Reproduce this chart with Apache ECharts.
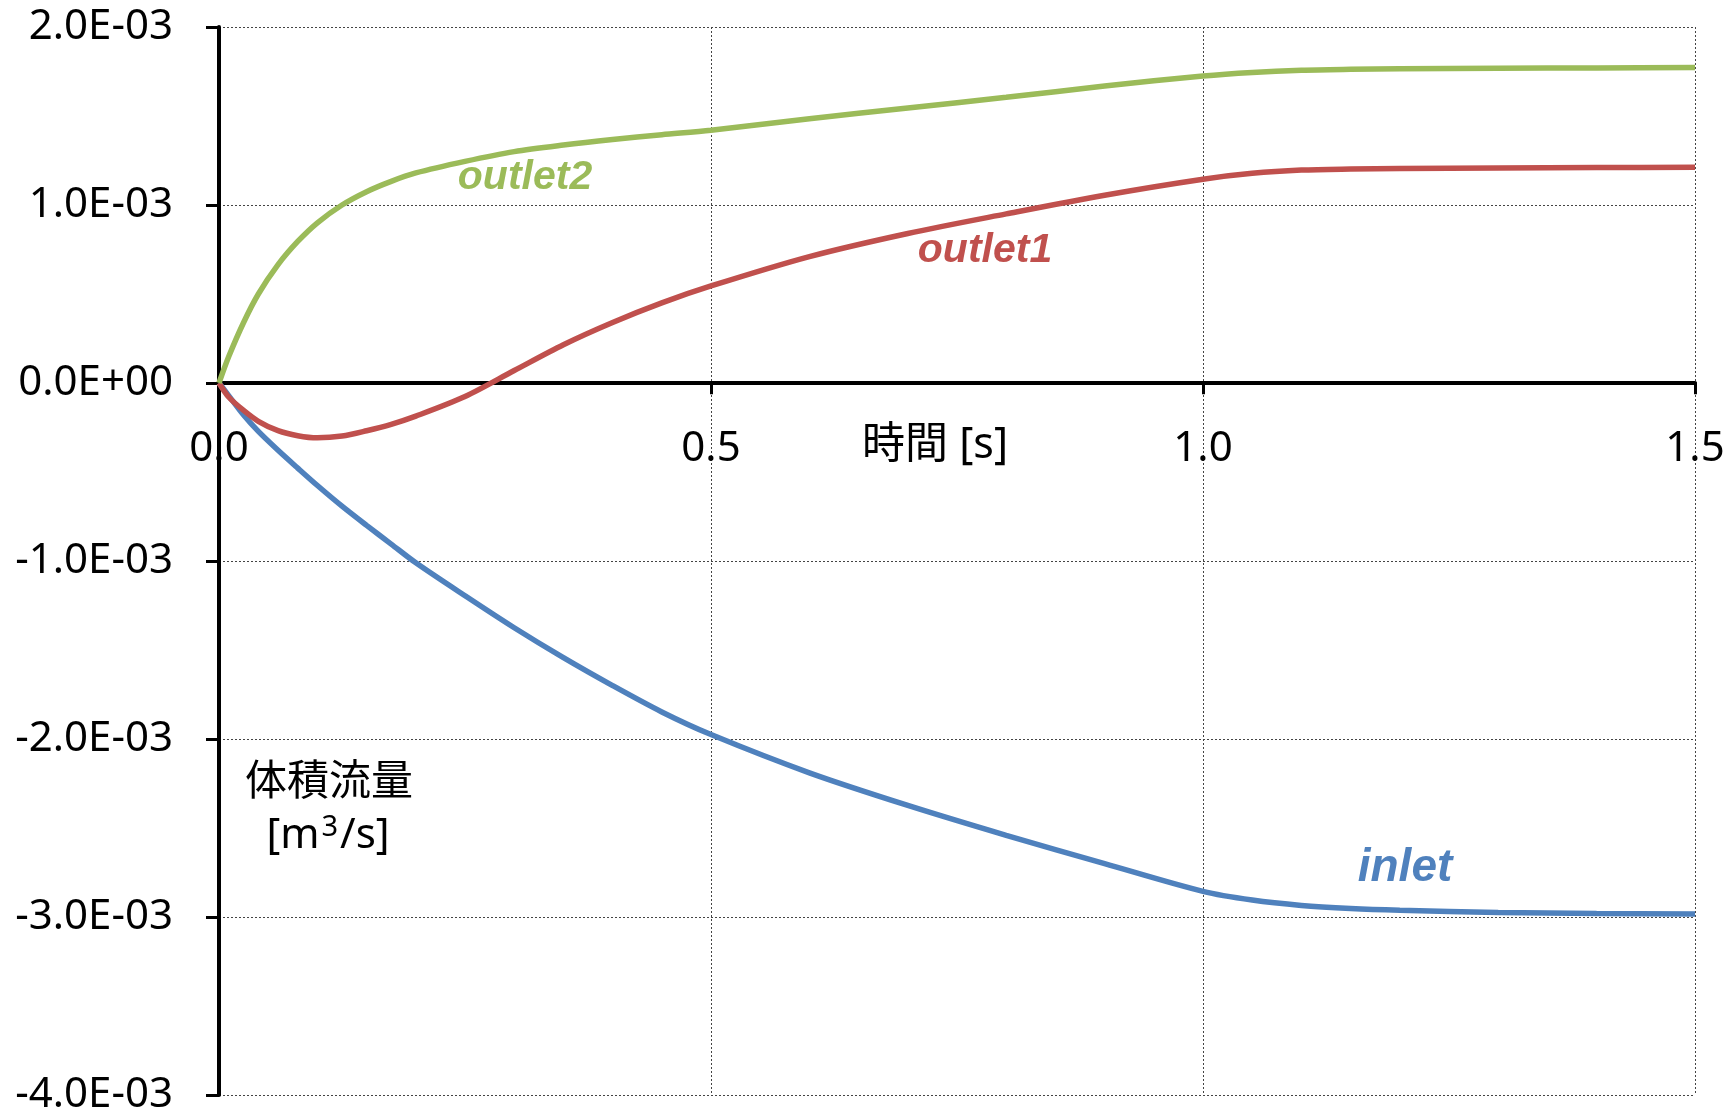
<!DOCTYPE html>
<html>
<head>
<meta charset="utf-8">
<script src="https://cdn.jsdelivr.net/npm/echarts@6/dist/echarts.min.js"></script>
<style>
  html, body { margin: 0; padding: 0; background: #fff; }
  #chart { width: 1736px; height: 1116px; }
</style>
</head>
<body>
<div id="chart"></div>
<script>
// Time samples [s]
const timeS = [0, 0.01, 0.025, 0.04, 0.06, 0.08, 0.1, 0.125, 0.15, 0.175, 0.2, 0.25, 0.3, 0.35, 0.4, 0.45, 0.5,
               0.6, 0.7, 0.8, 0.9, 1.0, 1.05, 1.1, 1.15, 1.2, 1.3, 1.4, 1.5];

// Volume flow rate [m3/s] per boundary
const inletFlow = [0, -0.072e-3, -0.18e-3, -0.272e-3, -0.378e-3, -0.478e-3, -0.576e-3, -0.692e-3, -0.800e-3,
                   -0.905e-3, -1.01e-3, -1.195e-3, -1.375e-3, -1.543e-3, -1.70e-3, -1.848e-3, -1.975e-3,
                   -2.19e-3, -2.373e-3, -2.541e-3, -2.70e-3, -2.856e-3, -2.905e-3, -2.935e-3, -2.952e-3,
                   -2.962e-3, -2.975e-3, -2.98e-3, -2.983e-3];
const outlet1Flow = [0, -0.08e-3, -0.154e-3, -0.215e-3, -0.268e-3, -0.296e-3, -0.308e-3, -0.298e-3, -0.268e-3,
                     -0.232e-3, -0.186e-3, -0.076e-3, 0.07e-3, 0.215e-3, 0.34e-3, 0.45e-3, 0.545e-3,
                     0.71e-3, 0.84e-3, 0.95e-3, 1.055e-3, 1.145e-3, 1.178e-3, 1.196e-3, 1.202e-3,
                     1.205e-3, 1.208e-3, 1.21e-3, 1.212e-3];
const outlet2Flow = [0, 0.15e-3, 0.34e-3, 0.50e-3, 0.665e-3, 0.795e-3, 0.90e-3, 1.00e-3, 1.075e-3,
                     1.133e-3, 1.18e-3, 1.245e-3, 1.30e-3, 1.337e-3, 1.368e-3, 1.395e-3, 1.42e-3,
                     1.485e-3, 1.545e-3, 1.605e-3, 1.668e-3, 1.725e-3, 1.745e-3, 1.757e-3, 1.762e-3,
                     1.765e-3, 1.768e-3, 1.77e-3, 1.772e-3];

const seriesNames = ['inlet', 'outlet1', 'outlet2'];
const seriesColors = ['#4F81BD', '#C0504D', '#9BBB59'];
const seriesValues = [inletFlow, outlet1Flow, outlet2Flow];

const xTitle = '時間 [s]';
const yTitle = '体積流量';

// Axis ranges
const xMin = 0, xMax = 1.5, xStep = 0.5;
const yMin = -0.004, yMax = 0.002, yStep = 0.001;

const baseFont = '"Noto Sans", "Noto Sans CJK JP", sans-serif';
const tagFont = '"Liberation Sans", Arial, sans-serif';

// Plot area
const W = 1736, H = 1116;
const gridBox = { left: 219, right: 41, top: 27, bottom: 20 };
const plotH = H - gridBox.top - gridBox.bottom;
// the time axis runs along the zero line of the flow axis
const zeroLift = -plotH * (0 - yMin) / (yMax - yMin);

// Excel-style scientific notation: 1.0E-03, 0.0E+00
function sciLabel(v) {
  if (Math.abs(v) < 1e-12) v = 0;
  const parts = v.toExponential(1).split('e');
  const exp = parts[1];
  const sign = exp[0] === '-' ? '-' : '+';
  const digits = exp.replace(/^[+-]/, '').padStart(2, '0');
  return parts[0] + 'E' + sign + digits;
}

const chart = echarts.init(document.getElementById('chart'), null, { renderer: 'canvas' });

const gridLine = { show: true, lineStyle: { color: '#444', width: 1, type: [2, 2] } };

chart.setOption({
  animation: false,
  backgroundColor: '#fff',
  grid: Object.assign({ containLabel: false }, gridBox),
  xAxis: {
    type: 'value',
    position: 'bottom',
    offset: zeroLift,
    min: xMin, max: xMax, interval: xStep,
    axisLine: { onZero: false, lineStyle: { color: '#000', width: 4 } },
    axisTick: { show: true, inside: false, length: 12, lineStyle: { color: '#000', width: 3 } },
    axisLabel: {
      show: true,
      margin: 46,
      color: '#000',
      fontSize: 42,
      fontFamily: baseFont,
      hideOverlap: false,
      showMinLabel: true,
      showMaxLabel: true,
      formatter: v => v.toFixed(1)
    },
    splitLine: gridLine
  },
  yAxis: {
    type: 'value',
    min: yMin, max: yMax, interval: yStep,
    axisLine: { show: true, onZero: false, lineStyle: { color: '#000', width: 4 } },
    axisTick: { show: true, inside: false, length: 13, lineStyle: { color: '#000', width: 3 } },
    axisLabel: {
      margin: 46,
      color: '#000',
      fontSize: 42,
      fontFamily: baseFont,
      formatter: sciLabel
    },
    splitLine: gridLine
  },
  series: seriesNames.map((name, k) => ({
    name,
    type: 'line',
    data: timeS.map((t, i) => [t, seriesValues[k][i]]),
    showSymbol: false,
    smooth: 0.3,
    lineStyle: { color: seriesColors[k], width: 5.5 },
    itemStyle: { color: seriesColors[k] },
    z: 3 + k
  })),
  graphic: [
    { type: 'text', x: 935, y: 446, style: { text: xTitle, fontSize: 43, fontFamily: baseFont, fill: '#000', align: 'center', verticalAlign: 'middle' } },
    { type: 'text', x: 329, y: 783, style: { text: yTitle, fontSize: 42, fontFamily: baseFont, fill: '#000', align: 'center', verticalAlign: 'middle' } },
    { type: 'text', x: 328, y: 832, style: {
        text: '{n|[m}{s|3}{n|/s]}',
        align: 'center', verticalAlign: 'middle',
        rich: {
          n: { fontSize: 42, fontFamily: baseFont, fill: '#000', lineHeight: 50, verticalAlign: 'bottom' },
          s: { fontSize: 29, fontFamily: baseFont, fill: '#000', lineHeight: 50, verticalAlign: 'top', padding: [6, 2, 0, 2] }
        }
      } },
    { type: 'text', x: 525, y: 178, style: { text: seriesNames[2], fontSize: 41, fontFamily: tagFont, fontWeight: 'bold', fontStyle: 'italic', fill: seriesColors[2], align: 'center', verticalAlign: 'middle' } },
    { type: 'text', x: 985, y: 251, style: { text: seriesNames[1], fontSize: 41, fontFamily: tagFont, fontWeight: 'bold', fontStyle: 'italic', fill: seriesColors[1], align: 'center', verticalAlign: 'middle' } },
    { type: 'text', x: 1405, y: 868, style: { text: seriesNames[0], fontSize: 46, fontFamily: tagFont, fontWeight: 'bold', fontStyle: 'italic', fill: seriesColors[0], align: 'center', verticalAlign: 'middle' } }
  ]
});
</script>
</body>
</html>
